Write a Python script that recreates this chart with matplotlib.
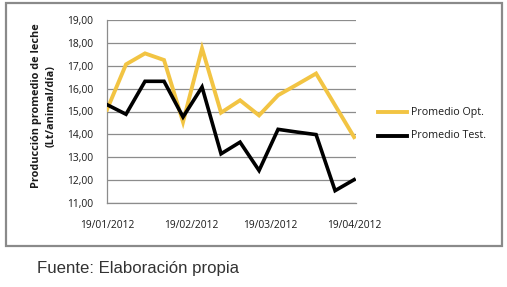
import matplotlib
matplotlib.use("Agg")
import matplotlib.pyplot as plt
import matplotlib.dates as mdates
from matplotlib.patches import Rectangle
from matplotlib.lines import Line2D
import datetime as dt

start = dt.date(2012, 1, 19)
dates = [start + dt.timedelta(days=7 * i) for i in range(14)]
prom_opt = [15.08, 17.06, 17.54, 17.25, 14.54, 17.76, 14.95, 15.49, 14.83, 15.71, 16.18, 16.66, 15.27, 13.88]
prom_test = [15.30, 14.88, 16.32, 16.32, 14.76, 16.07, 13.15, 13.66, 12.42, 14.22, 14.10, 13.99, 11.54, 12.02]
tick_dates = [dt.date(2012, 1, 19), dt.date(2012, 2, 19), dt.date(2012, 3, 19), dt.date(2012, 4, 19)]
yticks = [11, 12, 13, 14, 15, 16, 17, 18, 19]
series_names = ["Promedio Opt.", "Promedio Test."]

W, H = 507, 287
fig = plt.figure(figsize=(W / 100, H / 100), dpi=100)
fig.patch.set_facecolor("white")

def fx(px):
    return px / W

def fy(py):
    return 1 - py / H

# outer chart frame
fig.patches.append(Rectangle((fx(6), fy(246)), fx(502) - fx(6), fy(3) - fy(246),
                             transform=fig.transFigure, fill=False,
                             edgecolor="#8a8a8a", linewidth=1.6))

ax = fig.add_axes([fx(107), fy(203), fx(356) - fx(107), fy(20) - fy(203)])
yellow = "#F2C443"
ax.plot(dates, prom_opt, color=yellow, linewidth=2.8, solid_joinstyle="miter", zorder=3)
ax.plot(dates, prom_test, color="black", linewidth=2.6, solid_joinstyle="miter", zorder=4)

ax.set_ylim(11, 19)
ax.set_xlim(mdates.date2num(dates[0]), mdates.date2num(dates[-1]) + 0.7)
ax.set_yticks(yticks)
ax.set_yticklabels([f"{v:.2f}".replace(".", ",") for v in yticks])
ax.set_xticks([mdates.date2num(d) for d in tick_dates])
ax.set_xticklabels([d.strftime("%d/%m/%Y") for d in tick_dates])
ax.grid(axis="y", color="#8c8c8c", linewidth=0.9)
ax.set_axisbelow(True)
for s in ["top", "right"]:
    ax.spines[s].set_visible(False)
ax.spines["left"].set_color("#8c8c8c")
ax.spines["bottom"].set_color("#8c8c8c")
ax.spines["left"].set_linewidth(0.9)
ax.spines["bottom"].set_linewidth(0.9)
ax.tick_params(axis="both", length=0, labelsize=7.4, colors="#1a1a1a")
ax.tick_params(axis="y", pad=10)
ax.tick_params(axis="x", pad=12)
for lab in ax.get_xticklabels() + ax.get_yticklabels():
    lab.set_fontfamily("Open Sans")

fig.text(fx(37), fy(106), "Producción promedio de leche", rotation=90, ha="center", va="center",
         fontsize=7.8, fontweight="bold", family="Open Sans", color="#1a1a1a")
fig.text(fx(51), fy(106), "(Lt/animal/día)", rotation=90, ha="center", va="center",
         fontsize=7.8, fontweight="bold", family="Open Sans", color="#1a1a1a")

# legend
for name, col, py in [(series_names[0], yellow, 112), (series_names[1], "black", 136)]:
    fig.lines.append(Line2D([fx(378), fx(407)], [fy(py), fy(py)], transform=fig.transFigure,
                            color=col, linewidth=2.8))
    fig.text(fx(411), fy(py), name, ha="left", va="center", fontsize=7.7,
             family="Open Sans", color="#1a1a1a")

fig.text(fx(37), fy(268), "Fuente: Elaboración propia", ha="left", va="center",
         fontsize=12.1, family="Liberation Sans", color="#333333")

fig.savefig("out.png", dpi=100)
